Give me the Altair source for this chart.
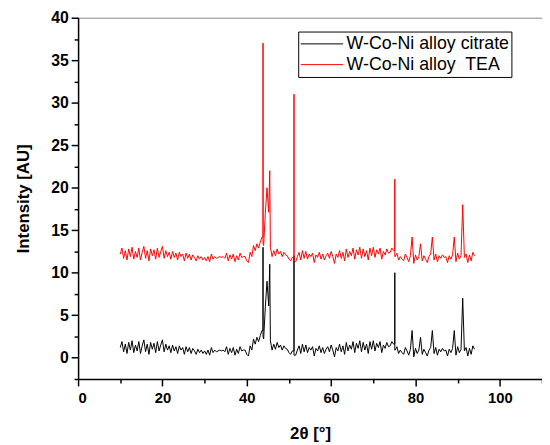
import altair as alt
import pandas as pd

# 2θ grid 10.0 .. 94.0 in 0.4° steps (211 points) + inserted sharp peaks
grid_start = 10.0
grid_step = 0.4

citrate_grid = [
    1.2, 1.9, 0.7, 1.6, 0.5, 1.8, 0.9, 2.0, 0.6, 1.5,
    0.8, 1.9, 0.5, 1.4, 2.1, 0.7, 1.6, 0.4, 1.8, 1.0,
    1.7, 0.6, 1.9, 0.8, 1.5, 2.1, 0.7, 1.6, 0.9, 1.4,
    0.6, 1.5, 0.8, 1.3, 0.5, 1.4, 0.9, 1.2, 0.4, 1.3,
    0.7, 1.2, 0.5, 1.1, 0.8, 0.4, 1.0, 0.6, 0.9, 0.5,
    0.8, 0.4, 0.9, 0.3, 1.2, 0.6, 0.9, 0.7, 0.8, 0.9,
    0.8, 0.9, 0.7, 1.3, 0.4, 1.1, 0.6, 1.2, 0.3, 1.0,
    0.5, 1.3, 0.8, 0.9, 0.9, 0.4, 0.2, 1.4, 0.9, 2.2,
    1.6, 2.4, 1.9, 2.6, 3.2, 2.2, 6.0, 9.0, 6.1, 2.0,
    0.9, 1.6, 1.0, 1.8, 1.2, 1.5, 0.9, 1.4, 1.1, 1.0,
    0.6, 0.4, 0.8, 12.0, 0.3, 0.9, 1.4, 0.5, 1.6, 0.7,
    1.5, 0.6, 1.2, 0.9, 1.3, 0.2, 1.1, 0.8, 1.4, 0.6,
    1.2, 0.5, 1.0, 1.3, 0.7, 1.5, 0.9, 0.1, 1.2, 0.8,
    1.6, 0.7, 1.4, 0.4, 1.8, 0.8, 1.5, 1.0, 1.9, 0.6,
    1.7, 1.1, 2.0, 0.7, 1.8, 0.9, 1.6, 0.5, 1.9, 1.0,
    2.0, 0.8, 1.7, 1.2, 1.9, 0.6, 1.5, 1.1, 1.8, 1.3,
    1.4, 1.9, 1.6, 0.9, 1.3, 0.5, 0.9, 0.6, 0.4, 1.2,
    0.8, 0.3, 1.0, 3.2, 0.1, 1.1, 0.5, 0.9, 2.4, 0.4,
    1.0, 0.6, 0.2, 0.9, 1.2, 3.2, 0.5, 1.2, 0.3, 1.0,
    0.7, 1.1, 0.8, 0.9, 0.2, 1.0, 0.6, 1.1, 3.2, 0.3,
    1.3, 0.6, 1.0, 7.0, 0.8, 1.2, 0.2, 1.1, 0.4, 1.4,
    1.0,
]

tea_grid = [
    12.2, 12.9, 11.7, 12.6, 11.5, 12.8, 11.9, 13.0, 11.6, 12.5,
    11.8, 12.9, 11.5, 12.4, 13.1, 11.7, 12.6, 11.4, 12.8, 12.0,
    12.7, 11.6, 12.9, 11.8, 12.5, 13.1, 11.7, 12.6, 11.9, 12.4,
    11.6, 12.5, 11.8, 12.3, 11.5, 12.4, 11.9, 12.2, 11.4, 12.3,
    11.7, 12.2, 11.5, 12.1, 11.8, 11.4, 12.0, 11.6, 11.9, 11.5,
    11.8, 11.4, 11.9, 11.3, 12.2, 11.6, 11.9, 11.7, 11.8, 11.9,
    11.8, 11.9, 11.7, 12.3, 11.4, 12.1, 11.6, 12.2, 11.3, 12.0,
    11.5, 12.3, 11.8, 11.9, 11.9, 11.4, 11.2, 12.4, 11.9, 13.2,
    12.6, 13.4, 12.9, 13.6, 14.2, 13.2, 17.0, 20.0, 17.1, 13.0,
    11.9, 12.6, 12.0, 12.8, 12.2, 12.5, 11.9, 12.4, 12.1, 12.0,
    11.6, 11.4, 11.8, 31.0, 11.3, 11.9, 12.4, 11.5, 12.6, 11.7,
    12.5, 11.6, 12.2, 11.9, 12.3, 11.2, 12.1, 11.8, 12.4, 11.6,
    12.2, 11.5, 12.0, 12.3, 11.7, 12.5, 11.9, 11.1, 12.2, 11.8,
    12.6, 11.7, 12.4, 11.4, 12.8, 11.8, 12.5, 12.0, 12.9, 11.6,
    12.7, 12.1, 13.0, 11.7, 12.8, 11.9, 12.6, 11.5, 12.9, 12.0,
    13.0, 11.8, 12.7, 12.2, 12.9, 11.6, 12.5, 12.1, 12.8, 12.3,
    12.4, 12.9, 12.6, 11.9, 12.3, 11.5, 11.9, 11.6, 11.4, 12.2,
    11.8, 11.3, 12.0, 14.2, 11.1, 12.1, 11.5, 11.9, 13.4, 11.4,
    12.0, 11.6, 11.2, 11.9, 12.2, 14.2, 11.5, 12.2, 11.3, 12.0,
    11.7, 12.1, 11.8, 11.9, 11.2, 12.0, 11.6, 12.1, 14.2, 11.3,
    12.3, 11.6, 12.0, 18.0, 11.8, 12.2, 11.2, 12.1, 11.4, 12.4,
    12.0,
]

# sharp reflections: vertical rise / fall at the same 2θ (rank orders them)
# (citrate peaks at 43.85° and 51.2° are only visible up to the TEA baseline)
peak_x = [43.85, 43.85, 43.85, 45.45, 51.2, 51.2, 75.1, 75.1, 75.1]
peak_rank = [0, 1, 3, 1, 0, 3, 0, 1, 3]
peak_citrate = [3.2, 13.0, 2.5, 11.0, 0.8, 0.3, 1.6, 10.0, 0.9]
peak_tea = [14.2, 37.0, 13.5, 22.0, 11.8, 11.3, 12.6, 21.0, 11.9]

series_names = ["W-Co-Ni alloy citrate", "W-Co-Ni alloy\u00a0 TEA"]
series_colors = ["#000000", "#ff0000"]

x_major = [0, 20, 40, 60, 80, 100]
x_minor = [10, 30, 50, 70, 90, 110]
y_major = [0, 5, 10, 15, 20, 25, 30, 35, 40]
y_minor = [-2.5, 2.5, 7.5, 12.5, 17.5, 22.5, 27.5, 32.5, 37.5]

grid_x = [round(grid_start + grid_step * i, 2) for i in range(len(citrate_grid))]


def series_frame(name, grid_vals, peak_vals):
    part = pd.DataFrame({
        "x": grid_x + peak_x,
        "rank": [1] * len(grid_x) + peak_rank,
        "y": grid_vals + peak_vals,
        "series": name,
    })
    part = part.sort_values(["x", "rank"]).reset_index(drop=True)
    part["order"] = range(len(part))
    return part


df_cit = series_frame(series_names[0], citrate_grid, peak_citrate)
df_tea = series_frame(series_names[1], tea_grid, peak_tea)

font = "Liberation Sans"

x_scale = alt.Scale(domain=[0, 110], nice=False, zero=False)
y_scale = alt.Scale(domain=[-2.5, 40], nice=False, zero=False)
color_enc = alt.Color(
    "series:N",
    scale=alt.Scale(domain=series_names, range=series_colors),
    sort=series_names,
    legend=alt.Legend(
        title=None, orient="none", legendX=223, legendY=14,
        strokeColor="black", fillColor="white", padding=2,
        symbolType="stroke", symbolSize=1849, symbolStrokeWidth=1,
        labelFontSize=18, labelFont=font, labelColor="black",
        labelOffset=3, clipHeight=21, rowPadding=0, labelLimit=400,
    ),
)

black = alt.Chart(df_cit).mark_line(strokeWidth=1, clip=True).encode(
    x=alt.X("x:Q", scale=x_scale,
            axis=alt.Axis(title="2θ [°]", values=x_major, tickSize=7,
                          labelFontSize=15, labelPadding=5,
                          titleFontSize=17, titlePadding=20, orient="bottom")),
    y=alt.Y("y:Q", scale=y_scale,
            axis=alt.Axis(title="Intensity [AU]", values=y_major, tickSize=7,
                          labelFontSize=16, labelPadding=3,
                          titleFontSize=17, titlePadding=18, orient="left")),
    color=color_enc,
    order="order:Q",
)

red = alt.Chart(df_tea).mark_line(strokeWidth=1, clip=True).encode(
    x=alt.X("x:Q", scale=x_scale,
            axis=alt.Axis(title=None, values=x_minor, tickSize=4, labels=False,
                          domain=False, orient="bottom")),
    y=alt.Y("y:Q", scale=y_scale,
            axis=alt.Axis(title=None, values=y_minor, tickSize=4, labels=False,
                          domain=False, orient="left")),
    color=color_enc,
    order="order:Q",
)

chart = alt.layer(black, red).resolve_axis(
    x="independent", y="independent"
).properties(
    width=470, height=366,
    autosize=alt.AutoSizeParams(type="none"),
    padding={"left": 71, "top": 7, "right": 0, "bottom": 62},
).configure_view(
    stroke="#888888", strokeWidth=1,
).configure_axis(
    grid=False,
    domainColor="black", domainWidth=1.5,
    tickColor="black", tickWidth=1.5,
    labelFont=font, labelFontWeight="bold", labelColor="black",
    titleFont=font, titleFontWeight="bold", titleColor="black",
)

chart.save("out.html", embed_options={"renderer": "svg", "actions": False})
